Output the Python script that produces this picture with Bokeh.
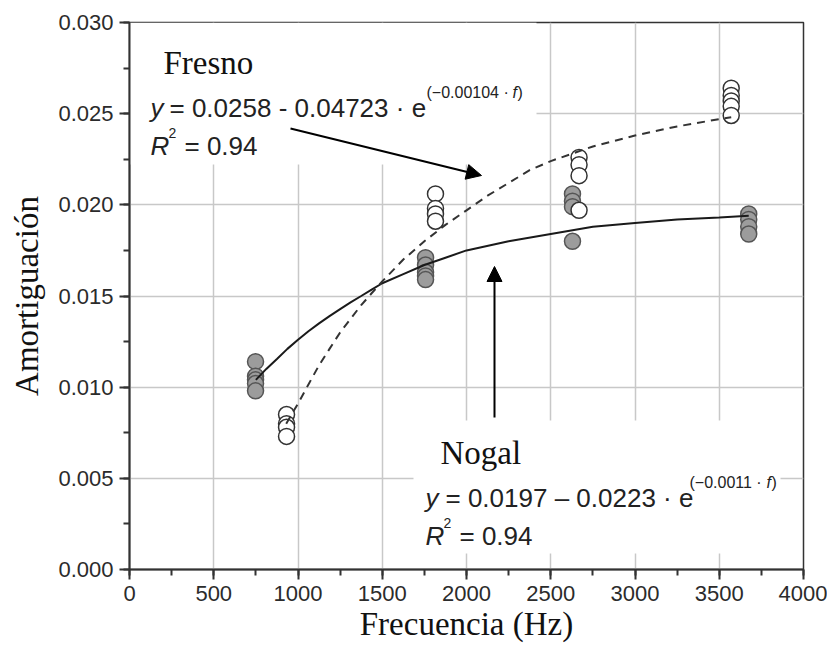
from bokeh.plotting import figure
from bokeh.models import (Range1d, SingleIntervalTicker, NumeralTickFormatter,
                          Label, Arrow, NormalHead)
from bokeh.embed import file_html
from bokeh.resources import INLINE

# ---------------- data ----------------
nogal_freq = [748, 748, 748, 748, 748,
              1757, 1757, 1757, 1757, 1757,
              2629, 2629, 2629, 2629,
              3675, 3675, 3675, 3675]
nogal_amort = [0.0114, 0.0106, 0.0104, 0.0102, 0.0098,
               0.0171, 0.0167, 0.0163, 0.0161, 0.0159,
               0.0206, 0.0202, 0.0199, 0.0180,
               0.0195, 0.0192, 0.0188, 0.0184]

fresno_freq = [932, 932, 932, 932,
               1816, 1816, 1816, 1816,
               2668, 2668, 2668, 2668,
               3571, 3571, 3571, 3571, 3571]
fresno_amort = [0.0085, 0.0080, 0.0078, 0.0073,
                0.0206, 0.0198, 0.0195, 0.0191,
                0.0226, 0.0222, 0.0216, 0.0197,
                0.0264, 0.0260, 0.0257, 0.0254, 0.0249]

nogal_fit_freq = [750, 812, 875, 937, 1000, 1062, 1125, 1187, 1250, 1312,
                  1375, 1437, 1500, 1625, 1750, 1875, 2000, 2250, 2500,
                  2750, 3000, 3250, 3500, 3675]
nogal_fit_amort = [0.0104, 0.0110, 0.01155, 0.0121, 0.0126, 0.01307, 0.0135,
                   0.0139, 0.01428, 0.01465, 0.0150, 0.01535, 0.0157, 0.0162,
                   0.0167, 0.0171, 0.0175, 0.0180, 0.0184, 0.0188, 0.0190,
                   0.0192, 0.0193, 0.0194]

fresno_fit_freq = [930, 965, 1000, 1062, 1125, 1187, 1250, 1312, 1375, 1437,
                   1500, 1625, 1750, 1875, 2000, 2125, 2250, 2375, 2500, 2750,
                   3000, 3250, 3500, 3571]
fresno_fit_amort = [0.0080, 0.00855, 0.0091, 0.01015, 0.0112, 0.0121, 0.0130,
                    0.01375, 0.0145, 0.01515, 0.0158, 0.0170, 0.0180, 0.0189,
                    0.0197, 0.0205, 0.0212, 0.0219, 0.0224, 0.0232, 0.0238,
                    0.0243, 0.0247, 0.0248]

x_label = "Frecuencia (Hz)"
y_label = "Amortiguación"

# ---------------- layout helpers (pixel -> data for annotations) ----------------
FL, FR, FT, FB = 129, 803, 22, 569
XMAX, YMAX = 4000, 0.030


def fx(px):
    return (px - FL) / (FR - FL) * XMAX


def fy(py):
    return (FB - py) / (FB - FT) * YMAX


p = figure(width=827, height=650, output_backend="svg", toolbar_location=None,
           x_range=Range1d(0, XMAX), y_range=Range1d(0, YMAX),
           min_border_left=FL, min_border_right=827 - FR,
           min_border_top=FT, min_border_bottom=650 - FB)
p.background_fill_color = "white"
p.border_fill_color = "white"
p.outline_line_color = "#333333"
p.outline_line_width = 1.5

p.xaxis.ticker = SingleIntervalTicker(interval=500, num_minor_ticks=2)
p.yaxis.ticker = SingleIntervalTicker(interval=0.005, num_minor_ticks=2)
p.yaxis.formatter = NumeralTickFormatter(format="0.000")

for ax in (p.xaxis[0], p.yaxis[0]):
    ax.axis_line_width = 2
    ax.axis_line_color = "#333333"
    ax.major_tick_line_width = 2
    ax.major_tick_line_color = "#333333"
    ax.major_tick_out = 10
    ax.major_tick_in = 0
    ax.minor_tick_line_width = 2
    ax.minor_tick_line_color = "#333333"
    ax.minor_tick_out = 6
    ax.minor_tick_in = 0
    ax.major_label_text_font = "Liberation Sans"
    ax.major_label_text_font_size = "22px"
    ax.major_label_text_color = "#2b2b2b"
    ax.major_label_standoff = 6
    ax.axis_label_text_font = "Liberation Serif"
    ax.axis_label_text_font_size = "33px"
    ax.axis_label_text_font_style = "normal"
    ax.axis_label_text_color = "#111111"

p.xaxis.axis_label = x_label
p.yaxis.axis_label = y_label
p.xaxis.axis_label_standoff = 2
p.yaxis.axis_label_standoff = 10

p.grid.grid_line_color = "#c8c8c8"
p.grid.grid_line_width = 1.5

# white backgrounds behind the two text blocks (they hide the grid)
p.quad(left=[fx(FL), fx(413)], right=[fx(536), fx(780)],
       top=[fy(FT), fy(420)], bottom=[fy(164), fy(553)],
       fill_color="white", line_color=None)

# points
p.scatter(nogal_freq, nogal_amort, marker="circle", size=16,
          fill_color="#9c9c9c", line_color="#555555", line_width=1.5)
p.scatter(fresno_freq, fresno_amort, marker="circle", size=16,
          fill_color="white", line_color="#333333", line_width=1.5)

# fitted curves
p.line(nogal_fit_freq, nogal_fit_amort, line_color="#1a1a1a", line_width=2)
p.line(fresno_fit_freq, fresno_fit_amort, line_color="#333333", line_width=2,
       line_dash="8 6")


def lab(px, py, text, size, font="Liberation Sans", style="normal",
        color="#222222", **kw):
    p.add_layout(Label(x=fx(px), y=fy(py), text=text, text_font=font,
                       text_font_size=size, text_font_style=style,
                       text_color=color, text_baseline="alphabetic",
                       text_align="left", **kw))


# Fresno block
lab(163, 62, "Fresno", "33px", font="Liberation Serif", color="#111111")
lab(150, 107, "y", "26px", style="italic")
lab(169, 107, "= 0.0258 - 0.04723 · e", "26px")
lab(426, 92, "(−0.00104 ·", "16px")
lab(512, 92, "f", "16px", style="italic")
lab(517, 92, ")", "16px")
lab(150, 145, "R", "26px", style="italic")
lab(168, 132, "2", "14px")
lab(184, 145, "= 0.94", "26px")

# Nogal block
lab(440, 452, "Nogal", "33px", font="Liberation Serif", color="#111111")
lab(425, 497, "y", "26px", style="italic")
lab(445, 497, "= 0.0197 – 0.0223 · e", "26px")
lab(689, 482, "(−0.0011 ·", "16px")
lab(766, 482, "f", "16px", style="italic")
lab(771, 482, ")", "16px")
lab(425, 535, "R", "26px", style="italic")
lab(443, 522, "2", "14px")
lab(459, 535, "= 0.94", "26px")

# arrows
p.add_layout(Arrow(end=NormalHead(size=15, fill_color="black", line_color="black"),
                   x_start=fx(290), y_start=fy(128), x_end=fx(481), y_end=fy(175),
                   line_width=2, line_color="black"))
p.add_layout(Arrow(end=NormalHead(size=15, fill_color="black", line_color="black"),
                   x_start=fx(494), y_start=fy(417), x_end=fx(494), y_end=fy(266),
                   line_width=2, line_color="black"))

open("out.html", "w").write(file_html(p, INLINE))
